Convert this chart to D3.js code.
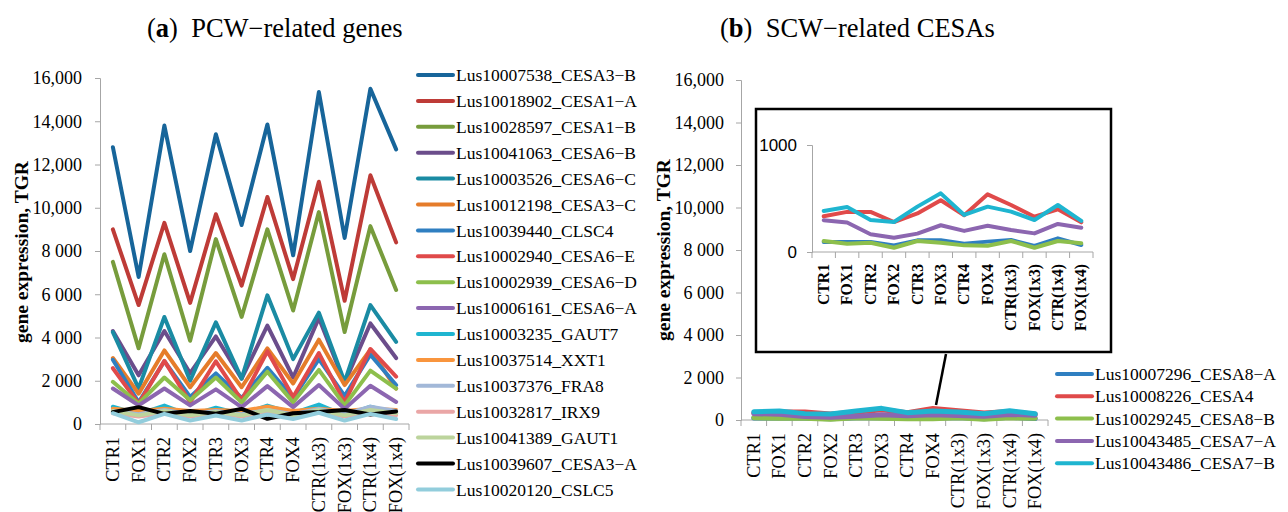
<!DOCTYPE html>
<html>
<head>
<meta charset="utf-8">
<script src="https://cdn.jsdelivr.net/npm/d3@7"></script>
<style>
  body { margin: 0; background: #fff; }
  svg { font-family: "Liberation Serif", "Times New Roman", serif; }
</style>
</head>
<body>
<svg id="chart" width="1288" height="512"></svg>
<script>
// categories shared by both panels
const categories = ["CTR1", "FOX1", "CTR2", "FOX2", "CTR3", "FOX3", "CTR4", "FOX4", "CTR(1x3)", "FOX(1x3)", "CTR(1x4)", "FOX(1x4)"];

// (a) PCW-related genes
const pcwNames = [
  "Lus10007538_CESA3\u2212B", "Lus10018902_CESA1\u2212A", "Lus10028597_CESA1\u2212B", "Lus10041063_CESA6\u2212B",
  "Lus10003526_CESA6\u2212C", "Lus10012198_CESA3\u2212C", "Lus10039440_CLSC4", "Lus10002940_CESA6\u2212E",
  "Lus10002939_CESA6\u2212D", "Lus10006161_CESA6\u2212A", "Lus10003235_GAUT7", "Lus10037514_XXT1",
  "Lus10037376_FRA8", "Lus10032817_IRX9", "Lus10041389_GAUT1", "Lus10039607_CESA3\u2212A", "Lus10020120_CSLC5"
];
const pcwColors = ["#17659a", "#be3b37", "#779c3c", "#6b4d8b", "#1a8ba3", "#e57c2a", "#2f7fc1", "#e04a4a",
  "#8dbf4c", "#8c66b0", "#1fb5d0", "#f9953d", "#a2b8d8", "#eaa6a6", "#bcd49c", "#000000", "#92cddc"];

const cesa3B = [12800, 6800, 13800, 8000, 13400, 9200, 13850, 7800, 15350, 8600, 15500, 12700];
const cesa1A = [9000, 5500, 9300, 5600, 9700, 6400, 10500, 6700, 11200, 5700, 11500, 8400];
const cesa1B = [7500, 3500, 7850, 3850, 8550, 4950, 9000, 5250, 9800, 4250, 9150, 6200];
const cesa6B = [4300, 2250, 4300, 2350, 4050, 2100, 4550, 2150, 4900, 1900, 4650, 3050];
const cesa6C = [4250, 1650, 4950, 2000, 4700, 2100, 5950, 3000, 5150, 1950, 5500, 3800];
const cesa3C = [3050, 1400, 3400, 1700, 3280, 1700, 3500, 1875, 3900, 1800, 3440, 1640];
const clsc4 = [2970, 1000, 2900, 1250, 2340, 1200, 2600, 1200, 3000, 1300, 3200, 1800];
const cesa6E = [2580, 940, 2920, 1000, 2900, 1100, 3360, 1250, 3280, 1000, 3470, 2190];
const cesa6D = [1950, 940, 2150, 1100, 2150, 1000, 2420, 1000, 2500, 860, 2470, 1640];
const cesa6A = [1640, 860, 1640, 860, 1600, 780, 1750, 780, 1800, 700, 1770, 1020];
const gaut7 = [800, 450, 850, 400, 750, 450, 850, 500, 900, 400, 800, 500];
const xxt1 = [700, 600, 700, 600, 650, 600, 800, 600, 700, 600, 700, 650];
const fra8 = [600, 450, 650, 450, 600, 450, 650, 450, 700, 450, 800, 600];
const irx9 = [500, 350, 500, 350, 500, 350, 550, 350, 600, 350, 550, 400];
const gaut1 = [600, 400, 600, 400, 550, 400, 650, 400, 650, 400, 650, 500];
const cesa3A = [550, 780, 470, 600, 470, 700, 240, 500, 550, 650, 440, 580];
const cslc5 = [500, 80, 470, 160, 390, 160, 440, 230, 520, 160, 470, 230];
const pcwSeries = [cesa3B, cesa1A, cesa1B, cesa6B, cesa6C, cesa3C, clsc4, cesa6E, cesa6D, cesa6A,
  gaut7, xxt1, fra8, irx9, gaut1, cesa3A, cslc5];

// (b) SCW-related CESAs
const scwNames = ["Lus10007296_CESA8\u2212A", "Lus10008226_CESA4", "Lus10029245_CESA8\u2212B",
  "Lus10043485_CESA7\u2212A", "Lus10043486_CESA7\u2212B"];
const scwColors = ["#2f7fc1", "#e04a4a", "#8dbf4c", "#8c66b0", "#1fb5d0"];
const cesa8A = [94, 94, 94, 62, 109, 109, 78, 97, 112, 56, 128, 65];
const cesa4 = [334, 375, 375, 280, 360, 484, 344, 539, 439, 330, 399, 277];
const cesa8B = [103, 78, 87, 40, 103, 87, 62, 59, 103, 40, 103, 81];
const cesa7A = [297, 275, 166, 134, 172, 250, 197, 246, 206, 174, 262, 227];
const cesa7B = [384, 420, 300, 280, 424, 548, 346, 424, 377, 299, 439, 290];
const scwSeries = [cesa8A, cesa4, cesa8B, cesa7A, cesa7B];

// tick values and labels
const yTicks = [0, 2000, 4000, 6000, 8000, 10000, 12000, 14000, 16000];
const yTickLabels = ["0", "2 000", "4 000", "6 000", "8 000", "10,000", "12,000", "14,000", "16,000"];
const insetTicks = [0, 1000];
const insetTickLabels = ["0", "1000"];

const svg = d3.select("#chart");

function drawPanel(opts) {
  const x = d3.scaleBand().domain(categories).range(opts.xRange);
  const y = d3.scaleLinear().domain(opts.yDomain).range(opts.yRange);
  const g = svg.append("g");

  // y axis
  const yAxis = g.append("g")
    .attr("transform", `translate(${opts.xRange[0]},0)`)
    .call(d3.axisLeft(y).tickValues(opts.ticks).tickSize(5).tickPadding(opts.tickPad)
      .tickFormat((d, i) => opts.tickLabels[i]));
  yAxis.select(".domain").attr("stroke", "#a6a6a6");
  yAxis.selectAll(".tick line").attr("stroke", "#a6a6a6");
  yAxis.selectAll(".tick text")
    .attr("fill", "#000")
    .style("font-family", opts.tickFont || "'Liberation Serif', serif")
    .style("font-size", (opts.tickSize || 18) + "px");

  // x axis: ticks at band boundaries
  const xAxis = g.append("g").attr("transform", `translate(0,${opts.yRange[0]})`);
  xAxis.append("line")
    .attr("x1", opts.xRange[0]).attr("x2", opts.xRange[1])
    .attr("stroke", "#a6a6a6");
  const bounds = categories.map(c => x(c)).concat([opts.xRange[1]]);
  xAxis.selectAll(".xt").data(bounds).enter().append("line")
    .attr("x1", d => d).attr("x2", d => d)
    .attr("y1", 0).attr("y2", 6)
    .attr("stroke", "#a6a6a6");
  xAxis.selectAll(".xl").data(categories).enter().append("text")
    .attr("transform", d => `translate(${x(d) + x.bandwidth() / 2 + opts.labelSize * 0.33},${opts.labelGap}) rotate(-90)`)
    .attr("text-anchor", "end")
    .style("font-size", opts.labelSize + "px")
    .style("font-weight", opts.labelBold ? "bold" : "normal")
    .text(d => d);

  // lines
  const line = d3.line()
    .x((d, i) => x(categories[i]) + x.bandwidth() / 2)
    .y(d => y(d));
  g.selectAll(".series").data(opts.series).enter().append("path")
    .attr("d", line)
    .attr("fill", "none")
    .attr("stroke", (d, i) => opts.colors[i])
    .attr("stroke-width", opts.lineWidth)
    .attr("stroke-linejoin", "round")
    .attr("stroke-linecap", "round");
}

function drawLegend(names, colors, x0, y0, step) {
  const lg = svg.append("g").attr("transform", `translate(${x0},${y0})`);
  const row = lg.selectAll("g").data(names).enter().append("g")
    .attr("transform", (d, i) => `translate(0,${i * step})`);
  row.append("line")
    .attr("x1", 0).attr("x2", 35)
    .attr("stroke", (d, i) => colors[i])
    .attr("stroke-width", 4)
    .attr("stroke-linecap", "round");
  row.append("text")
    .attr("x", 38).attr("dy", "0.35em")
    .style("font-size", "17.5px")
    .text(d => d);
}

function drawTitle(x, letter, rest) {
  const t = svg.append("text").attr("x", x).attr("y", 37).style("font-size", "26.5px");
  t.append("tspan").text("(");
  t.append("tspan").style("font-weight", "bold").text(letter);
  t.append("tspan").text(")\u2002" + rest);
}

function drawYLabel(x, y) {
  svg.append("text")
    .attr("transform", `translate(${x},${y}) rotate(-90)`)
    .attr("text-anchor", "middle")
    .style("font-size", "19.5px")
    .style("font-weight", "bold")
    .text("gene expression, TGR");
}

// panel (a)
drawTitle(147, "a", "PCW\u2212related genes");
drawYLabel(28, 252);
drawPanel({
  xRange: [100, 409], yRange: [424, 78], yDomain: [0, 16000],
  ticks: yTicks, tickLabels: yTickLabels, tickPad: 13,
  labelSize: 18.3, labelGap: 13, series: pcwSeries, colors: pcwColors, lineWidth: 4
});
drawLegend(pcwNames, pcwColors, 418, 75, 25.9);

// panel (b)
drawTitle(720, "b", "SCW\u2212related CESAs");
drawYLabel(670, 250);
drawPanel({
  xRange: [741, 1048], yRange: [420, 80], yDomain: [0, 16000],
  ticks: yTicks, tickLabels: yTickLabels, tickPad: 12,
  labelSize: 18.3, labelGap: 13, series: scwSeries, colors: scwColors, lineWidth: 5
});
drawLegend(scwNames, scwColors, 1057, 374, 22.3);

// inset box and connector
svg.append("rect")
  .attr("x", 756).attr("y", 109).attr("width", 355).attr("height", 243)
  .attr("fill", "#fff").attr("stroke", "#000").attr("stroke-width", 2.5);
svg.append("line")
  .attr("x1", 946).attr("y1", 354).attr("x2", 936).attr("y2", 405)
  .attr("stroke", "#000").attr("stroke-width", 2.5);
drawPanel({
  xRange: [812, 1093], yRange: [252, 145], yDomain: [0, 1000],
  ticks: insetTicks, tickLabels: insetTickLabels, tickPad: 10,
  tickFont: "'Liberation Sans', Arial, sans-serif", tickSize: 17,
  labelSize: 15.7, labelBold: true, labelGap: 12, series: scwSeries, colors: scwColors, lineWidth: 4
});
</script>
</body>
</html>
